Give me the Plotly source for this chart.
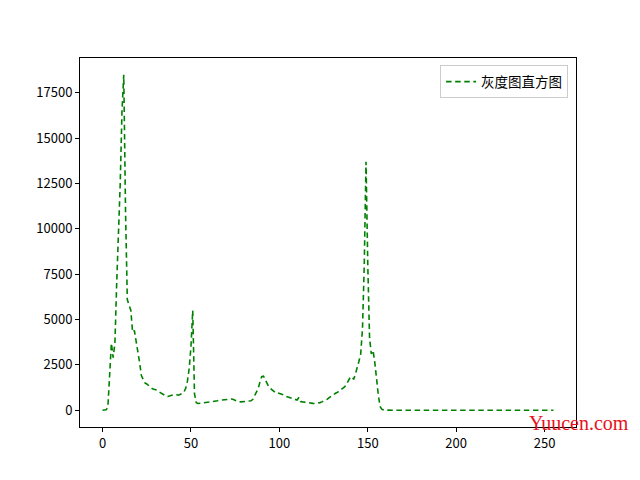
import plotly.graph_objects as go

gray_levels = list(range(256))
hist_head = [
    0, 0, 30, 150, 1700, 3700, 2900, 3700, 7000, 9500,
    12500, 16500, 18500, 11000, 6100, 5800, 5500, 4300, 4400, 3800,
    3300, 2600, 1900, 1650, 1500, 1450, 1350, 1250, 1200, 1150,
    1120, 1100, 1010, 950, 880, 830, 780, 760, 800, 830,
    830, 850, 850, 830, 860, 920, 1000, 1200, 1600, 2300,
    3500, 5500, 900, 420, 370, 380, 400, 420, 430, 440,
    450, 460, 470, 480, 500, 520, 550, 560, 580, 600,
    620, 630, 650, 620, 590, 540, 500, 470, 460, 470,
    460, 480, 490, 500, 520, 600, 780, 950, 1200, 1550,
    1850, 1880, 1700, 1450, 1300, 1200, 1100, 1020, 950, 960,
    930, 920, 880, 820, 760, 720, 680, 640, 600, 570,
    560, 700, 480, 460, 440, 430, 420, 400, 390, 380,
    370, 380, 400, 420, 460, 500, 540, 600, 680, 760,
    840, 900, 950, 1000, 1100, 1150, 1220, 1300, 1450, 1650,
    1800, 1850, 1700, 2000, 2300, 2700, 3100, 4500, 8000, 13700,
    8000, 4000, 3100, 3300, 2600, 1500, 800, 200, 50, 10,
]
hist_tail = [
    0, 0, 0, 0, 0, 0, 0, 0, 0, 0, 0, 0, 0, 0, 0, 0,
    0, 0, 0, 0, 0, 0, 0, 0, 0, 0, 0, 0, 0, 0, 0, 0,
    0, 0, 0, 0, 0, 0, 0, 0, 0, 0, 0, 0, 0, 0, 0, 0,
    0, 0, 0, 0, 0, 0, 0, 0, 0, 0, 0, 0, 0, 0, 0, 0,
    0, 0, 0, 0, 0, 0, 0, 0, 0, 0, 0, 0, 0, 0, 0, 0,
    0, 0, 0, 0, 0, 0, 0, 0, 0, 0, 0, 0, 0, 0, 0, 0,
]
hist_values = hist_head + hist_tail

x_ticks = [0, 50, 100, 150, 200, 250]
y_ticks = [0, 2500, 5000, 7500, 10000, 12500, 15000, 17500]
series_name = "灰度图直方图"
watermark = "Yuucen.com"

FONT = "Noto Sans CJK SC, DejaVu Sans, sans-serif"

fig = go.Figure()
fig.add_trace(go.Scatter(
    x=gray_levels, y=hist_values, mode="lines", name=series_name,
    line=dict(color="#008000", width=1.6, dash="5.5px,3.6px"),
))

ymax = max(hist_values)
xmin, xmax = min(gray_levels), max(gray_levels)
xpad = (xmax - xmin) * 0.05
ypad = ymax * 0.05

axis_common = dict(
    showline=True, linecolor="black", linewidth=1, mirror=True,
    ticks="outside", ticklen=4, tickcolor="black", tickwidth=1,
    showgrid=False, zeroline=False, tickformat="d",
    tickfont=dict(family=FONT, size=13, color="black"),
)

# page body has an 8px offset; margins compensate so the plot box sits at 80..576 x 58..427
fig.update_layout(
    width=640, height=480,
    margin=dict(l=72, r=72, t=50, b=61),
    paper_bgcolor="white", plot_bgcolor="white",
    xaxis=dict(range=[xmin - xpad, xmax + xpad], tickvals=x_ticks, **axis_common),
    yaxis=dict(range=[-ypad, ymax + ypad], tickvals=y_ticks, **axis_common),
    showlegend=True,
    legend=dict(
        x=0.984, y=0.98, xanchor="right", yanchor="top",
        bordercolor="#cccccc", borderwidth=1, bgcolor="white",
        font=dict(family=FONT, size=13.5, color="black"),
    ),
    annotations=[dict(
        text=watermark, xref="paper", yref="paper", x=1.006, y=0.012,
        xanchor="center", yanchor="middle", showarrow=False,
        font=dict(family="Liberation Serif, DejaVu Serif, serif", size=20, color="#e8101a"),
    )],
)

fig.write_html("out.html")
